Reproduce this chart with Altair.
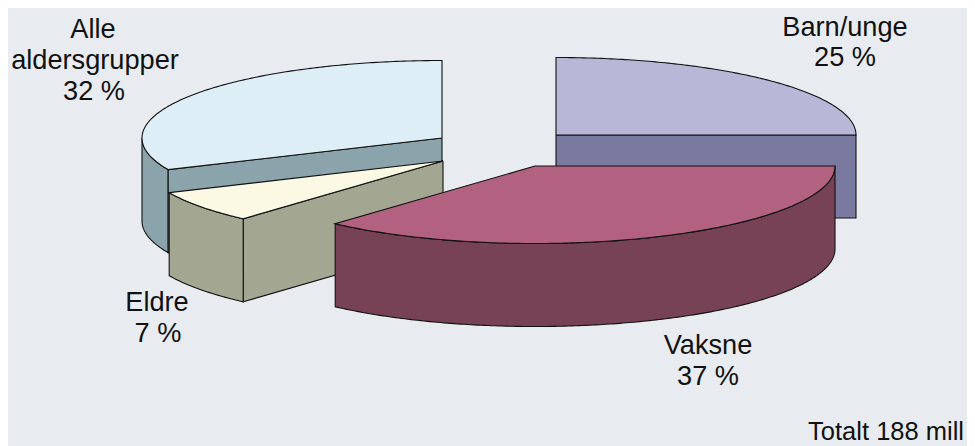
import math
import altair as alt
import pandas as pd

# Values
categories = ["Barn/unge", "Vaksne", "Eldre", "Alle aldersgrupper"]
shares = [25.0, 36.6, 6.7, 31.7]
share_labels = ["25 %", "37 %", "7 %", "32 %"]

W, H = 959, 438
OFF = 8
BG = "#e8ecf0"
top_colors = ["#b8b7d8", "#b26280", "#fbf9e3", "#ddeef7"]
side_colors = ["#7a79a0", "#774256", "#a3a691", "#8ba3ab"]
# exploded centre of every slice
centres = [(556, 135), (535, 166), (443, 161), (442, 138)]
RX, RY, DEPTH = 300, 77.5, 83

# slice angles, clockwise from 12 o'clock
starts, a0 = [], -90.0
for s in shares:
    starts.append((a0, a0 + s * 3.6))
    a0 += s * 3.6


def arc(i, t0, t1, dy=0):
    cx, cy = centres[i]
    n = max(2, int(abs(t1 - t0) * 1.5))
    return [(cx + RX * math.cos(math.radians(t0 + (t1 - t0) * k / n)),
             cy + dy + RY * math.sin(math.radians(t0 + (t1 - t0) * k / n)))
            for k in range(n + 1)]


def sector(i):
    t0, t1 = starts[i]
    return [centres[i]] + arc(i, t0, t1) + [centres[i]]


def wall(i, t0, t1):
    pts = arc(i, t0, t1) + arc(i, t1, t0, DEPTH)
    return pts + pts[:1]


def cut(i, t):
    c = centres[i]
    e = arc(i, t, t)[0]
    pts = [c, e, (e[0], e[1] + DEPTH), (c[0], c[1] + DEPTH)]
    return pts + pts[:1]


x_scale = alt.Scale(domain=[OFF, OFF + W], range=[0, W], nice=False, zero=False)
y_scale = alt.Scale(domain=[OFF, OFF + H], range=[0, H], nice=False, zero=False)


def poly(points, fill):
    df = pd.DataFrame(points, columns=["x", "y"])
    df["o"] = range(len(df))
    return alt.Chart(df).mark_line(
        fill=fill, stroke="#111111", strokeWidth=1.1, clip=False, strokeJoin="miter"
    ).encode(
        x=alt.X("x:Q", scale=x_scale, axis=None),
        y=alt.Y("y:Q", scale=y_scale, axis=None),
        order="o:Q",
    )


layers = [
    poly(cut(0, 0), side_colors[0]),
    poly(sector(0), top_colors[0]),
    poly(wall(3, starts[3][0], 180), side_colors[3]),
    poly(cut(3, starts[3][0]), side_colors[3]),
    poly(sector(3), top_colors[3]),
    poly(cut(2, starts[2][0]), side_colors[2]),
    poly(wall(2, starts[2][0], starts[2][1]), side_colors[2]),
    poly(sector(2), top_colors[2]),
    poly(wall(1, starts[1][0], starts[1][1]), side_colors[1]),
    poly(sector(1), top_colors[1]),
]

texts = pd.DataFrame(
    [
        ("Alle", 93, 38),
        ("aldersgrupper", 95, 69),
        (share_labels[3], 94, 100),
        ("Barn/unge", 845, 36),
        (share_labels[0], 845, 66),
        ("Eldre", 157, 311),
        (share_labels[2], 158, 342),
        ("Vaksne", 708, 354),
        (share_labels[1], 708, 385),
    ],
    columns=["t", "x", "y"],
)
label_layer = alt.Chart(texts).mark_text(
    font="Liberation Sans", fontSize=27.2, color="#111111", align="center", baseline="alphabetic"
).encode(
    x=alt.X("x:Q", scale=x_scale, axis=None),
    y=alt.Y("y:Q", scale=y_scale, axis=None),
    text="t:N",
)
total_layer = alt.Chart(pd.DataFrame({"t": ["Totalt 188 mill"], "x": [964], "y": [440]})).mark_text(
    font="Liberation Sans", fontSize=25.5, color="#111111", align="right", baseline="alphabetic"
).encode(
    x=alt.X("x:Q", scale=x_scale, axis=None),
    y=alt.Y("y:Q", scale=y_scale, axis=None),
    text="t:N",
)

chart = alt.layer(*layers, label_layer, total_layer).properties(
    width=W,
    height=H,
    background=BG,
    padding=0,
    autosize=alt.AutoSizeParams(type="none"),
).configure_view(stroke=None, fill=BG)

chart.save("out.html", embed_options={"renderer": "svg", "actions": False})
